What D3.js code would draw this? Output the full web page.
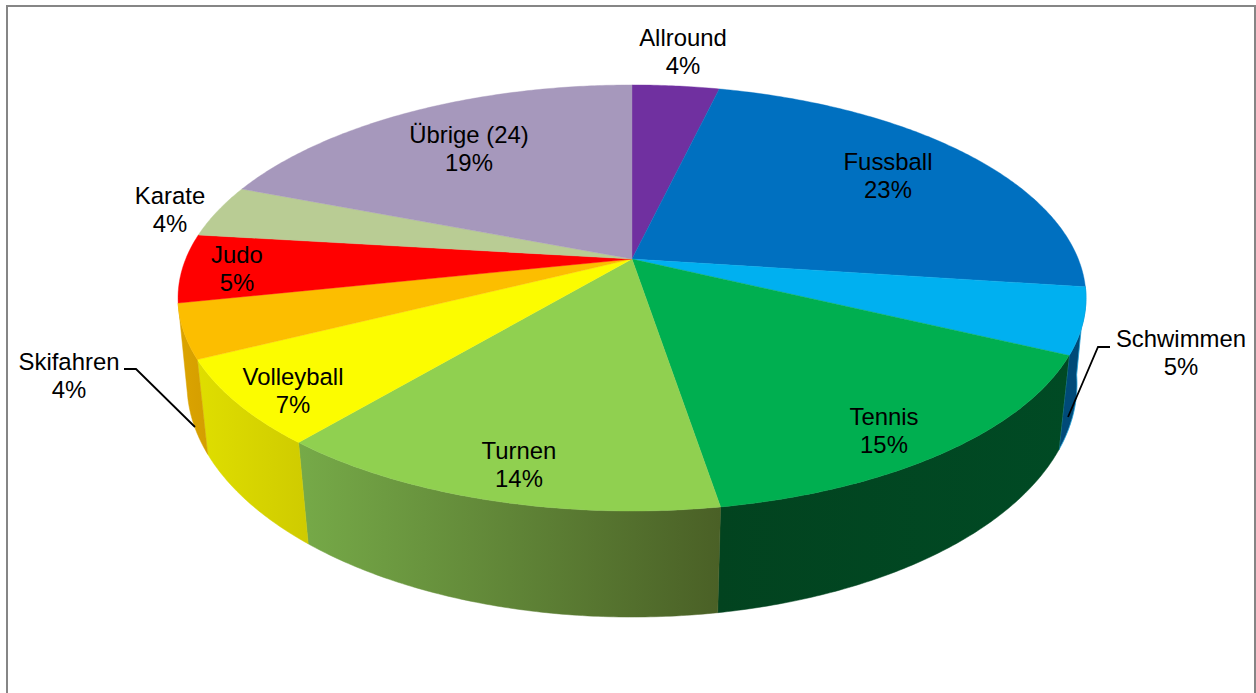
<!DOCTYPE html>
<html><head><meta charset="utf-8">
<script src="https://cdn.jsdelivr.net/npm/d3@7/dist/d3.min.js"></script>
<style>html,body{margin:0;padding:0;background:#fff;overflow:hidden}svg{display:block}
text{font-family:"Liberation Sans",Arial,sans-serif;font-size:23.9px;fill:#000;text-anchor:middle}</style>
</head><body><svg id="c" width="1256" height="693"></svg>
<script>
// ---- data (shares in %; rounded labels below)
const categories = ["Allround","Fussball","Schwimmen","Tennis","Turnen","Volleyball","Skifahren","Judo","Karate","Übrige (24)"];
const shares     = [3.7,23.4,5.0,15.3,13.7,6.5,4.1,5.2,4.0,19.1];
const pctLabels  = ["4%","23%","5%","15%","14%","7%","4%","5%","4%","19%"];
const topColors  = ["#7030A0","#0070C0","#00B0F0","#00AF50","#90D050","#FCFC00","#FCBE00","#FF0000","#B9CC94","#A698BC"];
const wallStart  = [null,null,"#004a78","#02431f","#76aa48","#dfde00","#dca400",null,null,null];
const wallEnd    = [null,null,"#004a78","#004a24","#4a6026","#cfcb00","#d49e00",null,null,null];

// ---- layout
const labelX    = [683,888,1181,884,519,293,69,237,170,469];
const labelY    = [46,170,347,425,459,385,370,263,204,143];
const leaders   = [
  [[124,369],[136,369],[195,427]],
  [[1110,347],[1098,347],[1068,417]]
];

// Projection of the unit disc to the screen (perspective view)
const topRim = {cx:632, cy:259, A:446.3, B:205.9, k:0.183};
const botRim = {cx:632, cy:344.4, A:438.5, B:226.3, k:0.17};
function project(p, ang, r=1){
  const u = r*Math.sin(ang), v = -r*Math.cos(ang), w = 1 - p.k*v;
  return [p.cx + p.A*u/w, p.cy + p.B*v/w];
}
function arcPts(p, a0, a1){
  const n = Math.max(2, Math.ceil((a1-a0)/0.01));
  return d3.range(n+1).map(i => project(p, a0 + (a1-a0)*i/n));
}
const line = d3.line();
const svg = d3.select("#c");
const defs = svg.append("defs");

svg.append("rect").attr("x",7).attr("y",6).attr("width",1248).attr("height",720)
   .attr("fill","#fff").attr("stroke","#868686").attr("stroke-width",2);

const slices = d3.pie().sort(null).value(d=>d)(shares);

// side walls
const walls = slices.map((s,i)=>({s,i})).filter(d=>{
  const mid=(d.s.startAngle+d.s.endAngle)/2; return -Math.cos(mid) > 0.1 && wallStart[d.i];
});
walls.forEach(({s,i})=>{
  const pts = arcPts(topRim,s.startAngle,s.endAngle).concat(arcPts(botRim,s.startAngle,s.endAngle).reverse());
  const ex = d3.extent(pts,d=>d[0]);
  const g = defs.append("linearGradient").attr("id","w"+i).attr("gradientUnits","userSpaceOnUse")
     .attr("x1",ex[0]).attr("x2",ex[1]).attr("y1",0).attr("y2",0);
  g.append("stop").attr("offset",0).attr("stop-color",wallStart[i]);
  g.append("stop").attr("offset",1).attr("stop-color",wallEnd[i]);
  svg.append("path").attr("d",line(pts)+"Z").attr("fill",`url(#w${i})`)
     .attr("stroke", categories[i]==="Schwimmen" ? "#1f9fd8" : `url(#w${i})`)
     .attr("stroke-width", categories[i]==="Schwimmen" ? 0.8 : 0.5);
});

// top face
slices.forEach((s,i)=>{
  const pts=[project(topRim,0,0)].concat(arcPts(topRim,s.startAngle,s.endAngle));
  svg.append("path").attr("d",line(pts)+"Z").attr("fill",topColors[i]).attr("stroke",topColors[i]).attr("stroke-width",0.4);
});

// leader lines
leaders.forEach(l=>svg.append("path").attr("d",line(l)).attr("fill","none").attr("stroke","#000").attr("stroke-width",1.8));

// labels
categories.forEach((c,i)=>{
  const t=svg.append("text").attr("x",labelX[i]).attr("y",labelY[i]);
  t.append("tspan").attr("x",labelX[i]).text(c);
  t.append("tspan").attr("x",labelX[i]).attr("dy",28).text(pctLabels[i]);
});
</script></body></html>
